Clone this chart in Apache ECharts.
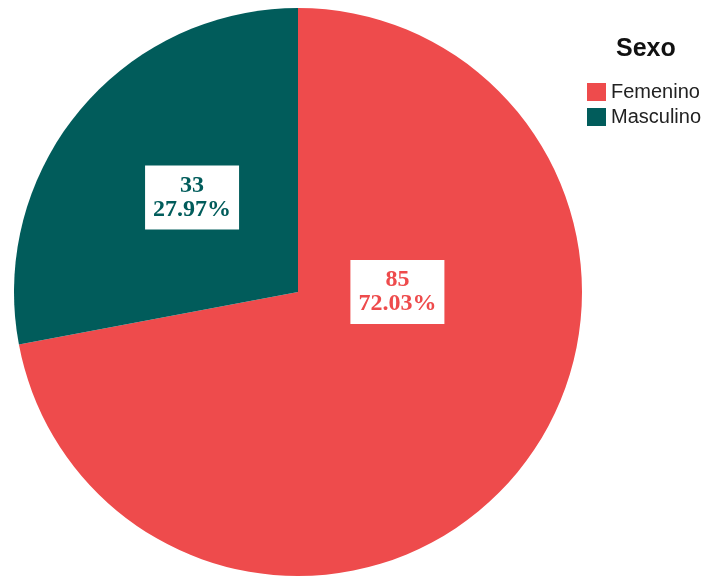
<!DOCTYPE html>
<html>
<head>
<meta charset="utf-8">
<script src="https://cdn.jsdelivr.net/npm/echarts@6/dist/echarts.min.js"></script>
<style>
  html, body { margin: 0; padding: 0; background: #ffffff; }
  #chart { width: 703px; height: 577px; }
</style>
</head>
<body>
<div id="chart"></div>
<script>
// Distribution by sex
const categories = ['Femenino', 'Masculino'];
const counts = [85, 33];
const percents = ['72.03%', '27.97%'];
const colors = ['#EE4B4C', '#015C5B'];

// label anchor points, relative to the pie centre (fraction of the radius)
const labelAnchors = [[0.35, 0.0], [-0.373, -0.333]];

const chart = echarts.init(document.getElementById('chart'));

const cx = 298, cy = 292, radius = 284;

chart.setOption({
  animation: false,
  legend: {
    orient: 'vertical',
    left: 582,
    top: 77,
    itemWidth: 19,
    itemHeight: 18,
    itemGap: 5,
    icon: 'rect',
    textStyle: { fontFamily: 'Liberation Sans', fontSize: 20, lineHeight: 18, color: '#222' },
    data: categories
  },
  title: {
    text: 'Sexo',
    left: 611,
    top: 32,
    textStyle: { fontFamily: 'Liberation Sans', fontSize: 25, fontWeight: 'bold', color: '#111' }
  },
  series: [{
    type: 'pie',
    center: [cx, cy],
    radius: [0, radius],
    startAngle: 90,
    clockwise: true,
    silent: true,
    data: categories.map((name, i) => ({
      name,
      value: counts[i],
      itemStyle: { color: colors[i] },
      label: { color: colors[i] }
    })),
    label: {
      show: true,
      position: 'inside',
      formatter: (p) => counts[p.dataIndex] + '\n' + percents[p.dataIndex],
      fontFamily: 'Liberation Serif',
      fontWeight: 'bold',
      fontSize: 24,
      lineHeight: 24,
      backgroundColor: '#ffffff',
      padding: [8, 8, 8, 8],
      align: 'center',
      verticalAlign: 'middle'
    },
    labelLine: { show: false },
    labelLayout: (params) => {
      const a = labelAnchors[params.dataIndex];
      return { x: cx + a[0] * radius, y: cy + a[1] * radius, align: 'center', verticalAlign: 'middle' };
    }
  }]
});
</script>
</body>
</html>
